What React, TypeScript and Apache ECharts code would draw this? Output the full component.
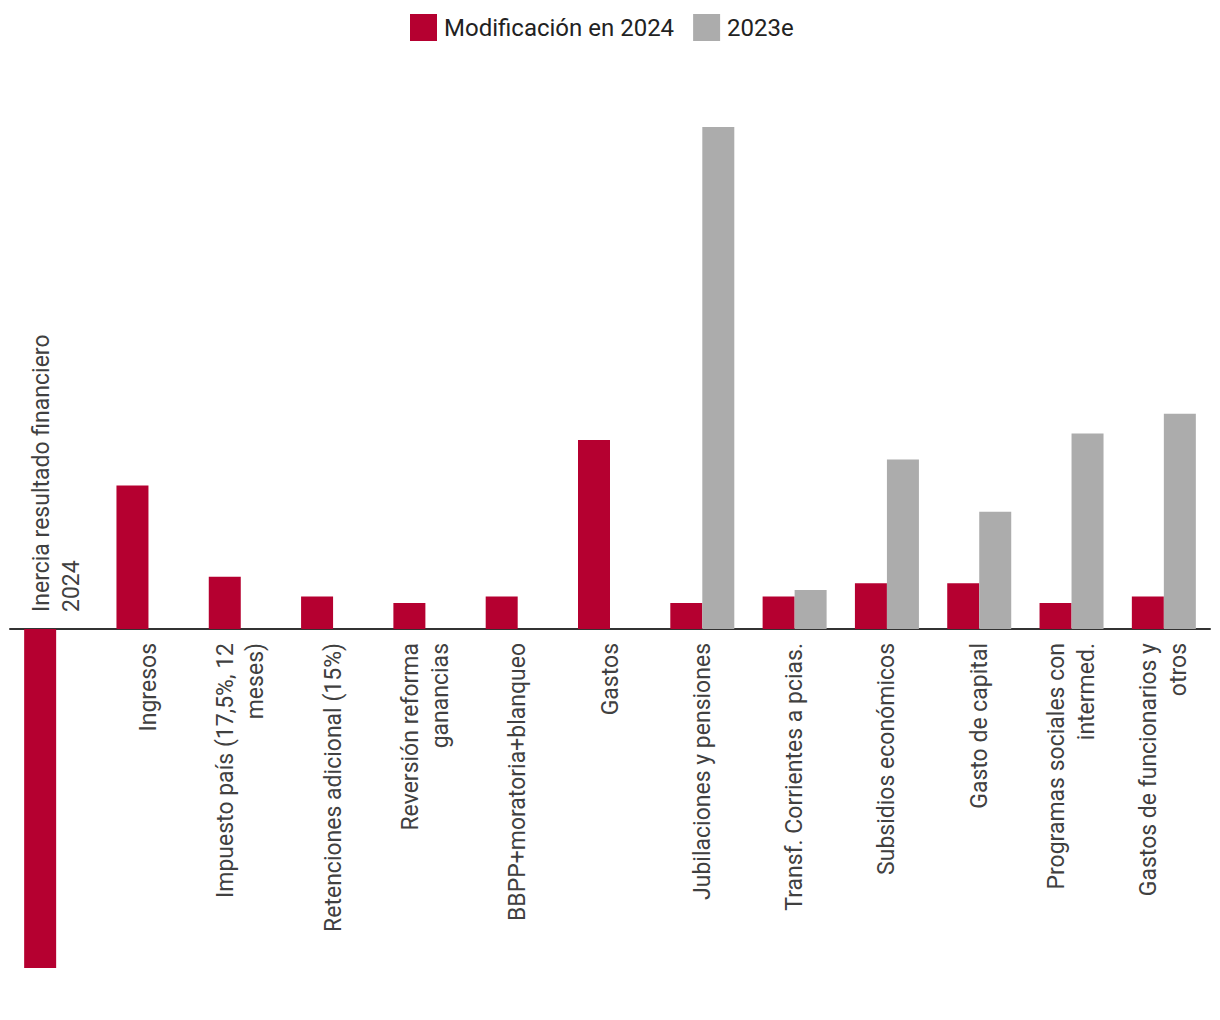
import React, { useEffect, useRef } from "react";
import * as echarts from "echarts";

const categories = [
  "Inercia resultado financiero\n2024",
  "Ingresos",
  "Impuesto país (17,5%, 12\nmeses)",
  "Retenciones adicional (15%)",
  "Reversión reforma\nganancias",
  "BBPP+moratoria+blanqueo",
  "Gastos",
  "Jubilaciones y pensiones",
  "Transf. Corrientes a pcias.",
  "Subsidios económicos",
  "Gasto de capital",
  "Programas sociales con\nintermed.",
  "Gastos de funcionarios y\notros",
];

const modificacion2024 = [-5.2, 2.2, 0.8, 0.5, 0.4, 0.5, 2.9, 0.4, 0.5, 0.7, 0.7, 0.4, 0.5];
const estimado2023 = [null, null, null, null, null, null, null, 7.7, 0.6, 2.6, 1.8, 3.0, 3.3];

const seriesNames = ["Modificación en 2024", "2023e"];
const RED = "#b50030";
const GRAY = "#acacac";
const TEXT = "#404040";
const FONT = "Roboto, 'Noto Sans', sans-serif";

export default function App() {
  const ref = useRef<HTMLDivElement>(null);

  useEffect(() => {
    if (!ref.current) return;
    const chart = echarts.init(ref.current, undefined, { renderer: "svg" });
    chart.setOption({
      animation: false,
      legend: {
        show: true,
        left: 410,
        top: 14,
        padding: 0,
        itemWidth: 27,
        itemHeight: 27,
        itemGap: 19,
        icon: "rect",
        data: seriesNames,
        textStyle: { fontSize: 24, color: "#222", fontFamily: FONT, padding: [0, 0, 0, 2] },
      },
      grid: { left: 10, right: 10, top: 127, bottom: 52, containLabel: false },
      xAxis: {
        type: "category",
        data: categories,
        axisLine: { show: true, onZero: true, lineStyle: { color: "#333", width: 2 } },
        axisTick: { show: false },
        axisLabel: { show: false },
        splitLine: { show: false },
      },
      yAxis: {
        type: "value",
        min: -5.2,
        max: 7.7,
        show: false,
        splitLine: { show: false },
      },
      series: [
        {
          name: seriesNames[0],
          type: "bar",
          data: modificacion2024,
          barWidth: 32,
          barGap: "0%",
          itemStyle: { color: RED },
        },
        {
          name: seriesNames[1],
          type: "bar",
          data: estimado2023,
          barWidth: 32,
          barGap: "0%",
          itemStyle: { color: GRAY },
        },
        {
          type: "custom",
          name: "labels",
          silent: true,
          clip: false,
          data: categories.map((_, i) => [i, 0]),
          encode: { x: 0, y: 1 },
          renderItem: (params: any, api: any) => {
            const i = api.value(0);
            const p = api.coord([i, 0]);
            const neg = (modificacion2024[i] as number) < 0;
            return {
              type: "text",
              x: p[0],
              y: neg ? p[1] - 17 : p[1] + 14,
              rotation: Math.PI / 2,
              style: {
                text: categories[i],
                align: neg ? "left" : "right",
                verticalAlign: "middle",
                fontSize: 23,
                lineHeight: 30,
                fontFamily: FONT,
                fill: TEXT,
              },
            };
          },
        },
      ],
    });
    return () => chart.dispose();
  }, []);

  return (
    <div
      ref={ref}
      style={{ position: "absolute", left: 0, top: 0, width: 1220, height: 1020, background: "#fff" }}
    />
  );
}
